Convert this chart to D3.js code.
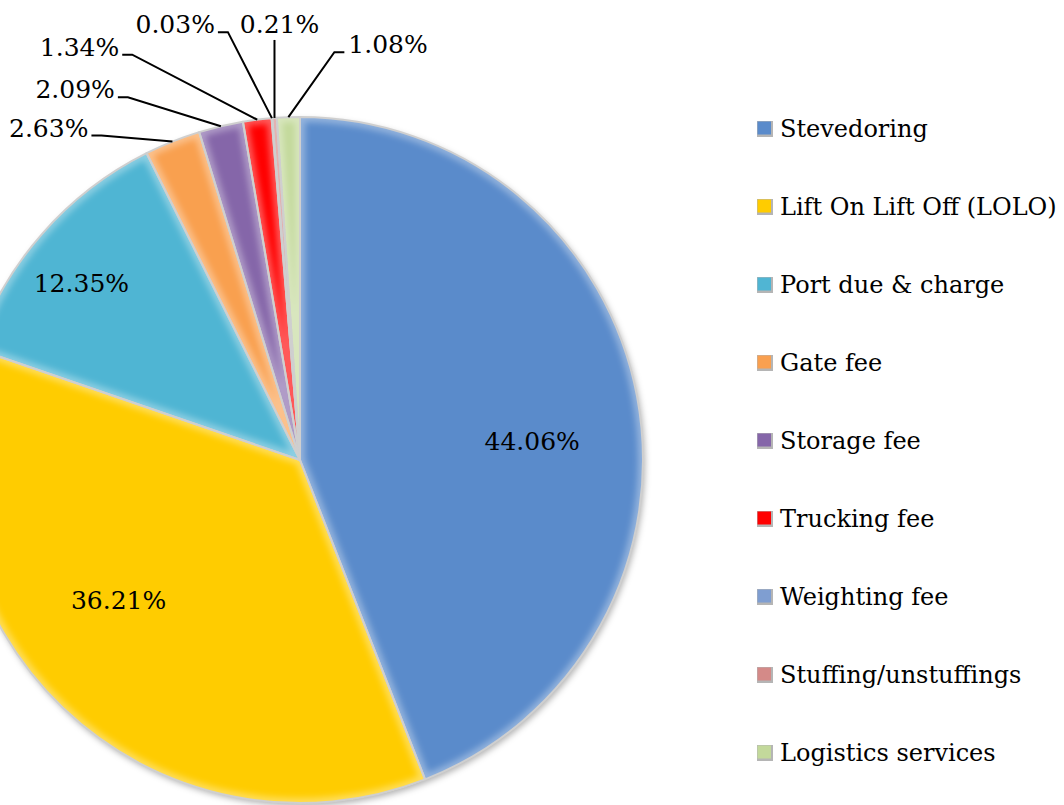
<!DOCTYPE html>
<html>
<head>
<meta charset="utf-8">
<script src="https://cdn.jsdelivr.net/npm/d3@7"></script>
<style>
  body { margin: 0; background: #fff; }
  text { font-family: "DejaVu Serif", serif; font-size: 24px; fill: #000; }
  text.pct { font-size: 25px; }
</style>
</head>
<body>
<script>
// data
const categories = ["Stevedoring", "Lift On Lift Off (LOLO)", "Port due & charge", "Gate fee",
  "Storage fee", "Trucking fee", "Weighting fee", "Stuffing/unstuffings", "Logistics services"]
const values = [44.06, 36.21, 12.35, 2.63, 2.09, 1.34, 0.03, 0.21, 1.08]
const valueLabels = ["44.06%", "36.21%", "12.35%", "2.63%", "2.09%", "1.34%", "0.03%", "0.21%", "1.08%"]
const colors = ["#5a8bcb", "#ffcc00", "#50b5d3", "#f9a050", "#8566a9", "#ff0000", "#7f9ed1", "#d48a88", "#c3d99b"]

// label layout (excel "best fit" placement): nudge for inside labels,
// elbow offset from slice edge + stub side for leader-line labels
const innerNudge = {
  "Stevedoring": [3, 24],
  "Lift On Lift Off (LOLO)": [-20, -28],
  "Port due & charge": [-7, 8]
}
const leaderOffsets = {
  "Gate fee": [-71, -6, "left"],
  "Storage fee": [-93, -29, "left"],
  "Trucking fee": [-125, -65, "left"],
  "Weighting fee": [-44, -86, "left"],
  "Stuffing/unstuffings": [0, -78, "up"],
  "Logistics services": [46, -65, "right"]
}

const w = 1064, h = 805
const cx = 300, cy = 460, r = 343

const svg = d3.select("body").append("svg")
  .attr("width", w).attr("height", h)

const defs = svg.append("defs")
const shadow = defs.append("filter").attr("id", "shadow")
  .attr("x", "-10%").attr("y", "-10%").attr("width", "120%").attr("height", "120%")
shadow.append("feDropShadow").attr("dx", 2).attr("dy", 3)
  .attr("stdDeviation", 3).attr("flood-color", "#000").attr("flood-opacity", 0.3)
defs.append("filter").attr("id", "soft")
  .append("feGaussianBlur").attr("stdDeviation", 3)

const color = d3.scaleOrdinal().domain(categories).range(colors)
const pie = d3.pie().sort(null).value(d => d.value)
const data = categories.map((c, i) => ({ name: c, value: values[i], label: valueLabels[i] }))
const arcs = pie(data)
const arc = d3.arc().innerRadius(0).outerRadius(r)

const g = svg.append("g").attr("transform", `translate(${cx},${cy})`)
const slices = g.append("g").attr("filter", "url(#shadow)")

arcs.forEach((d, i) => {
  defs.append("clipPath").attr("id", "clip" + i)
    .append("path").attr("d", arc(d))
})

slices.selectAll("path.slice")
  .data(arcs)
  .enter()
  .append("path")
  .attr("class", "slice")
  .attr("d", arc)
  .attr("fill", d => color(d.data.name))

// bevel highlight on each slice
g.append("g").selectAll("g")
  .data(arcs)
  .enter()
  .append("g")
  .attr("clip-path", (d, i) => "url(#clip" + i + ")")
  .append("path")
  .attr("d", arc)
  .attr("fill", "none")
  .attr("stroke", "#fff")
  .attr("stroke-opacity", 0.35)
  .attr("stroke-width", 10)
  .attr("filter", "url(#soft)")

g.append("g").selectAll("path")
  .data(arcs)
  .enter()
  .append("path")
  .attr("d", arc)
  .attr("fill", "none")
  .attr("stroke", "#cfcfcf")
  .attr("stroke-width", 2)
  .attr("stroke-linejoin", "round")

// inside labels
const inner = arcs.filter(d => d.data.value >= 5)
inner.forEach(d => {
  const lr = d.data.value > 20 ? r * 0.68 : r * 0.82
  const la = d3.arc().innerRadius(lr).outerRadius(lr)
  const [x, y] = la.centroid(d)
  const [nx, ny] = innerNudge[d.data.name]
  g.append("text")
    .attr("class", "pct")
    .attr("x", x + nx).attr("y", y + ny + 9)
    .attr("text-anchor", "middle")
    .text(d.data.label)
})

// outside labels with leader lines
const edgeArc = d3.arc().innerRadius(r).outerRadius(r)
const outer = arcs.filter(d => d.data.value < 5)
outer.forEach(d => {
  const [ex, ey] = edgeArc.centroid(d)
  const [dx, dy, side] = leaderOffsets[d.data.name]
  const bx = ex + dx, by = ey + dy
  let pts, tx, ty, anchor
  if (side === "left") {
    pts = [[ex, ey], [bx, by], [bx - 10, by]]
    tx = bx - 13; ty = by + 1; anchor = "end"
  } else if (side === "right") {
    pts = [[ex, ey], [bx, by], [bx + 10, by]]
    tx = bx + 14; ty = by + 1; anchor = "start"
  } else {
    pts = [[ex, ey], [bx, by]]
    tx = bx + 5; ty = by - 7; anchor = "middle"
  }
  g.append("path")
    .attr("d", d3.line()(pts))
    .attr("fill", "none")
    .attr("stroke", "#000")
    .attr("stroke-width", 2)
  g.append("text")
    .attr("class", "pct")
    .attr("x", tx).attr("y", ty)
    .attr("text-anchor", anchor)
    .text(d.data.label)
})

// legend
const yLegend = d3.scalePoint().domain(categories).range([137, 761])
const legend = svg.append("g")
const items = legend.selectAll("g")
  .data(categories)
  .enter()
  .append("g")
  .attr("transform", d => `translate(757, ${yLegend(d)})`)
items.append("rect")
  .attr("x", 0).attr("y", -16)
  .attr("width", 16).attr("height", 16)
  .attr("fill", "#b5b5b5")
items.append("rect")
  .attr("x", 0.5).attr("y", -15.5)
  .attr("width", 13.5).attr("height", 13)
  .attr("fill", d => color(d))
items.append("text")
  .attr("x", 23).attr("y", 0)
  .text(d => d)
</script>
</body>
</html>
